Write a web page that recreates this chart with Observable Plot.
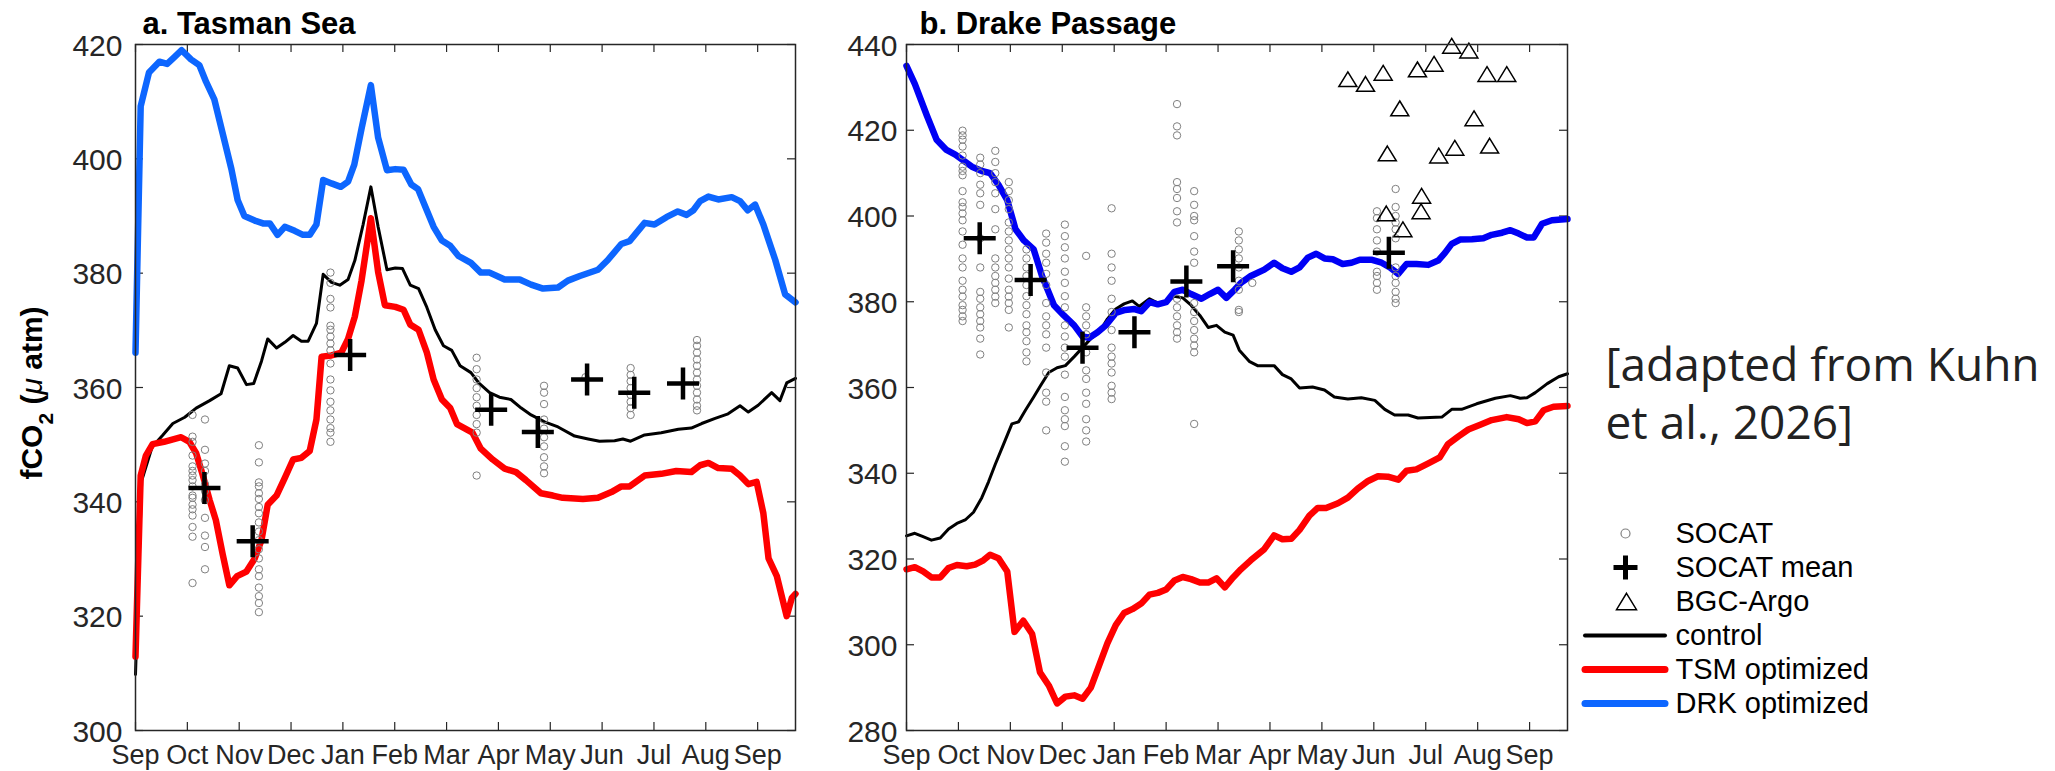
<!DOCTYPE html>
<html><head><meta charset="utf-8">
<script src="https://cdn.jsdelivr.net/npm/d3@7"></script>
<script src="https://cdn.jsdelivr.net/npm/@observablehq/plot@0.6"></script>
<style>
body{margin:0;background:#fff;}
#fig{position:relative;width:2055px;height:771px;overflow:hidden;background:#fff;}
.pane{position:absolute;top:0;}
#ylab{position:absolute;left:31.6px;top:393px;transform:translate(-50%,-50%) rotate(-90deg);font:bold 30px "Liberation Sans",Arial,sans-serif;line-height:1;white-space:nowrap;color:#000;}
#ylab .sub{font-size:0.7em;position:relative;top:11px;}
#ylab .mu{font-weight:normal;font-style:italic;}
</style></head><body>
<div id="fig">
  <div id="pa" class="pane" style="left:0px"></div>
  <div id="pb" class="pane" style="left:820px"></div>
  <div id="lg" class="pane" style="left:1560px"></div>
  <div id="ylab">fCO<span class="sub">2</span> (<span class="mu">μ</span> atm)</div>
</div>
<script>
// ---------- data ----------
const monthNames = ["Sep","Oct","Nov","Dec","Jan","Feb","Mar","Apr","May","Jun","Jul","Aug","Sep"];
const monthTicks = [0,1,2,3,4,5,6,7,8,9,10,11,12];
const tasmanYTicks = [300,320,340,360,380,400,420];
const drakeYTicks = [280,300,320,340,360,380,400,420,440];
const panelTitles = ["a. Tasman Sea", "b. Drake Passage"];

// x = months since 1 Sep, y = fCO2 (µatm)
const tasmanDRK = [[0,366.1],[0.1,409.2],[0.26,415.1],[0.46,417.0],[0.61,416.6],[0.75,417.8],[0.89,419.0],[1.07,417.4],[1.23,416.4],[1.36,413.5],[1.52,410.4],[1.68,404.5],[1.85,398.2],[1.97,392.8],[2.10,390.0],[2.30,389.2],[2.46,388.7],[2.59,388.7],[2.74,386.7],[2.88,388.1],[3.07,387.4],[3.23,386.7],[3.36,386.7],[3.49,388.5],[3.62,396.3],[3.78,395.7],[3.96,395.1],[4.10,396.0],[4.22,399.0],[4.36,405.3],[4.54,412.9],[4.68,403.7],[4.85,398.0],[5.01,398.2],[5.17,398.1],[5.32,395.5],[5.45,394.7],[5.59,391.6],[5.75,388.1],[5.91,385.7],[6.07,384.8],[6.23,383.0],[6.47,381.8],[6.66,380.1],[6.83,380.1],[7.12,378.9],[7.41,378.9],[7.63,378.0],[7.86,377.3],[8.15,377.5],[8.34,378.7],[8.57,379.5],[8.92,380.6],[9.11,382.3],[9.37,385.1],[9.53,385.6],[9.82,388.8],[10.01,388.5],[10.24,389.8],[10.46,390.8],[10.63,390.2],[10.76,391.0],[10.89,392.6],[11.05,393.4],[11.24,392.9],[11.50,393.3],[11.66,392.6],[11.81,391.0],[11.95,392.0],[12.11,388.5],[12.34,382.3],[12.53,376.3],[12.73,374.9]];

const tasmanControl = [[0,309.8],[0.12,343.7],[0.32,349.6],[0.52,351.6],[0.72,353.7],[0.95,354.8],[1.17,356.4],[1.43,357.7],[1.65,358.9],[1.81,363.8],[1.97,363.4],[2.14,360.5],[2.28,360.7],[2.43,364.6],[2.55,368.5],[2.72,366.9],[2.88,367.9],[3.04,369.1],[3.20,368.1],[3.33,368.1],[3.49,371.2],[3.62,379.8],[3.78,378.4],[3.94,377.9],[4.10,378.9],[4.23,382.2],[4.39,388.5],[4.54,395.1],[4.68,388.1],[4.85,380.6],[5.01,380.9],[5.15,380.8],[5.30,377.9],[5.46,377.3],[5.62,374.0],[5.78,370.1],[5.94,367.3],[6.10,366.5],[6.26,363.8],[6.47,362.6],[6.63,360.7],[6.83,359.1],[7.02,358.3],[7.24,357.9],[7.44,356.4],[7.63,355.2],[7.89,354.0],[8.15,353.1],[8.47,351.5],[8.73,351.0],[8.95,350.6],[9.24,350.7],[9.40,351.0],[9.55,350.6],[9.82,351.7],[10.14,352.1],[10.47,352.7],[10.72,352.9],[10.92,353.7],[11.18,354.6],[11.43,355.4],[11.66,356.8],[11.82,355.7],[12.01,356.9],[12.27,359.1],[12.43,357.7],[12.56,360.8],[12.73,361.6]];

const tasmanTSM = [[0,312.9],[0.1,344.6],[0.2,348.1],[0.33,350.1],[0.55,350.5],[0.88,351.3],[1.04,350.5],[1.17,348.5],[1.30,344.6],[1.43,340.3],[1.55,336.8],[1.68,330.9],[1.81,325.4],[1.96,327.0],[2.14,327.8],[2.30,330.1],[2.43,333.3],[2.55,339.5],[2.72,341.1],[2.88,344.2],[3.04,347.4],[3.20,347.7],[3.36,348.9],[3.49,354.4],[3.59,365.4],[3.78,365.6],[3.97,366.1],[4.10,368.5],[4.23,372.4],[4.36,378.7],[4.54,389.6],[4.68,380.2],[4.81,374.4],[5.01,374.1],[5.17,373.6],[5.30,371.0],[5.46,370.1],[5.62,366.1],[5.75,361.4],[5.91,357.9],[6.07,356.4],[6.20,353.6],[6.50,352.1],[6.66,349.3],[6.89,347.4],[7.12,345.8],[7.34,345.2],[7.53,343.8],[7.82,341.5],[8.05,341.1],[8.24,340.7],[8.63,340.5],[8.92,340.7],[9.18,341.7],[9.37,342.7],[9.53,342.7],[9.82,344.6],[10.14,344.9],[10.43,345.4],[10.72,345.2],[10.89,346.4],[11.05,346.8],[11.24,345.9],[11.50,345.8],[11.66,344.6],[11.82,343.1],[11.98,343.5],[12.11,338.0],[12.21,330.1],[12.37,327.0],[12.56,320.0],[12.66,323.2],[12.73,323.9]];

const tasmanMeans = [[1.33,342.4],[2.26,333.1],[4.14,365.7],[6.86,356.1],[7.76,352.2],[8.71,361.4],[9.62,359.1],[10.56,360.7]];

const tasmanSocat = [
  [1.10,[355.2,351.4,350.5,348.1,346.2,345.4,344.6,343.8,342.7,341.1,340.7,339.5,338.7,337.6,335.6,333.9,325.8]],
  [1.34,[354.4,349.1,346.7,345.4,343.1,341.9,340.3,337.2,334.1,332.1,328.2]],
  [2.38,[349.9,346.9,343.4,342.7,341.5,340.5,339.1,338.0,336.4,334.8,333.3,331.7,330.1,328.2,327.0,325.0,323.5,322.3,320.7]],
  [3.76,[380.1,378.3,375.5,374.0,370.8,370.1,368.9,367.7,366.5,364.2,361.4,359.5,357.5,356.0,354.4,352.9,352.1,350.5]],
  [6.58,[365.2,363.2,361.4,359.9,358.3,356.8,355.2,353.6,352.1,344.6]],
  [7.88,[360.3,359.1,357.1,354.4,352.8,351.3,349.7,347.8,346.2,345.0]],
  [8.68,[361.8]],
  [9.55,[363.4,362.2,361.1,359.9,358.7,357.5,356.4,355.2]],
  [10.83,[368.3,367.3,366.1,364.9,363.8,362.6,361.4,360.3,359.1,357.9,356.8,356.0]]
];

const drakeDRK = [[0,435.0],[0.16,430.8],[0.39,423.5],[0.58,417.8],[0.77,415.4],[0.94,414.3],[1.10,412.9],[1.26,411.5],[1.45,410.5],[1.61,410.0],[1.77,407.3],[1.94,403.7],[2.10,396.9],[2.26,394.3],[2.45,392.2],[2.61,386.0],[2.84,379.2],[3.03,376.8],[3.23,374.5],[3.39,371.9],[3.52,371.6],[3.68,372.9],[3.84,374.5],[4.03,377.4],[4.21,378.1],[4.39,378.3],[4.52,377.8],[4.68,379.9],[4.84,379.4],[5.00,379.9],[5.16,382.3],[5.32,382.8],[5.48,381.8],[5.68,380.7],[5.84,381.8],[6.00,382.8],[6.16,380.9],[6.32,382.8],[6.44,384.4],[6.63,386.0],[6.89,387.5],[7.08,389.1],[7.24,387.8],[7.41,387.0],[7.57,388.0],[7.73,390.3],[7.89,391.2],[8.05,390.1],[8.21,389.9],[8.40,388.8],[8.57,389.1],[8.73,389.8],[8.95,389.8],[9.15,389.1],[9.31,388.0],[9.47,386.5],[9.63,388.8],[9.82,388.8],[10.05,388.6],[10.24,389.6],[10.37,391.4],[10.50,393.5],[10.66,394.5],[10.89,394.6],[11.11,394.8],[11.27,395.6],[11.47,396.1],[11.63,396.7],[11.79,395.9],[11.95,395.0],[12.08,395.0],[12.24,398.2],[12.43,399.0],[12.73,399.3]];

const drakeControl = [[0,325.4],[0.16,326.0],[0.32,325.2],[0.48,324.4],[0.65,324.9],[0.81,327.0],[0.97,328.3],[1.13,329.1],[1.29,330.9],[1.45,334.3],[1.58,338.0],[1.71,342.1],[1.87,346.8],[2.03,351.5],[2.16,352.0],[2.29,354.7],[2.45,357.8],[2.58,360.4],[2.74,363.5],[2.90,364.6],[3.06,365.1],[3.23,367.2],[3.39,369.3],[3.55,371.4],[3.71,372.9],[3.87,376.0],[4.03,378.3],[4.19,379.5],[4.35,380.2],[4.48,378.9],[4.68,380.7],[4.84,379.7],[5.00,380.0],[5.16,381.3],[5.32,380.9],[5.48,379.2],[5.65,376.8],[5.81,374.0],[5.97,374.5],[6.13,372.9],[6.29,372.2],[6.41,368.7],[6.60,366.1],[6.76,365.1],[7.08,365.1],[7.24,363.0],[7.41,362.0],[7.57,359.9],[7.82,360.1],[8.05,359.4],[8.24,357.8],[8.50,357.3],[8.76,357.6],[9.02,357.0],[9.21,354.9],[9.40,353.6],[9.66,353.6],[9.85,352.9],[10.31,353.1],[10.50,354.9],[10.69,354.9],[10.98,356.2],[11.34,357.5],[11.63,358.1],[11.82,357.5],[11.95,357.6],[12.11,358.8],[12.34,360.9],[12.56,362.5],[12.73,363.2]];

const drakeTSM = [[0,317.6],[0.16,318.1],[0.32,317.1],[0.48,315.7],[0.65,315.7],[0.81,317.9],[0.97,318.6],[1.16,318.3],[1.32,318.7],[1.48,319.7],[1.61,321.0],[1.77,320.2],[1.94,317.1],[2.08,303.0],[2.25,305.6],[2.42,302.5],[2.57,293.6],[2.74,290.5],[2.90,286.3],[3.06,287.9],[3.23,288.2],[3.39,287.4],[3.55,290.0],[3.71,295.2],[3.87,300.4],[4.03,304.6],[4.19,307.4],[4.35,308.3],[4.52,309.6],[4.68,311.7],[4.84,312.1],[5.00,312.9],[5.16,315.0],[5.32,315.8],[5.48,315.3],[5.65,314.5],[5.81,314.5],[5.97,315.5],[6.13,313.4],[6.29,315.7],[6.44,317.6],[6.63,319.7],[6.89,322.3],[7.08,325.5],[7.24,324.6],[7.41,324.7],[7.57,326.8],[7.76,330.1],[7.92,331.9],[8.08,331.9],[8.31,333.0],[8.50,334.3],[8.69,336.4],[8.89,338.2],[9.08,339.3],[9.27,339.2],[9.47,338.5],[9.63,340.6],[9.82,340.9],[10.05,342.3],[10.27,343.7],[10.43,346.8],[10.63,348.6],[10.82,350.2],[11.05,351.3],[11.27,352.4],[11.56,353.1],[11.79,352.6],[11.95,351.7],[12.11,352.1],[12.27,354.7],[12.46,355.5],[12.73,355.7]];

const drakeMeans = [[1.41,394.8],[2.39,385.1],[3.39,369.3],[4.39,372.9],[5.39,384.7],[6.29,388.3],[9.29,391.4]];

const drakeArgo = [[8.50,431.9],[8.84,430.8],[9.18,433.4],[9.50,425.1],[9.26,414.6],[9.24,400.6],[9.56,396.9],[9.84,434.2],[10.16,435.5],[9.92,404.7],[9.91,401.1],[10.25,414.1],[10.56,415.9],[10.50,439.7],[10.83,438.6],[10.93,422.8],[11.18,433.1],[11.56,433.1],[11.23,416.4]];

const drakeSocat = [
  [1.08,[419.9,418.8,417.8,416.2,414.1,411.5,410.5,409.5,405.8,403.2,402.1,400.6,399.0,396.4,393.3,390.1,388.0,384.9,382.8,381.2,379.2,378.1,376.6,375.5]],
  [1.42,[413.6,412.0,410.0,407.3,405.3,402.6,394.8,388.0,382.3,380.7,378.7,377.1,375.5,374.0,371.4,367.7]],
  [1.71,[415.2,412.6,410.0,407.9,405.3,401.6,396.9,390.1,388.0,386.0,384.4,382.8,381.2,379.7]],
  [1.97,[407.9,405.8,403.7,401.6,398.5,396.4,394.3,392.2,390.1,388.0,385.4,382.8,381.2,379.7,378.1,374.0]],
  [2.31,[392.2,390.1,388.0,386.0,383.9,381.3,379.2,377.1,374.5,372.9,370.8,368.2,366.1]],
  [2.69,[395.9,393.8,391.2,389.1,386.5,383.9,379.7,376.6,374.5,372.4,369.3,363.5,358.8,356.7,350.0]],
  [3.05,[398.0,395.3,392.7,390.1,387.0,384.4,381.3,378.7,374.5,371.9,369.3,367.2,363.0,357.8,354.7,352.6,351.0,346.3,342.7]],
  [3.46,[390.7,378.7,376.6,374.5,372.4,368.2,364.0,362.0,358.8,356.2,352.6,350.0,347.4]],
  [3.95,[401.8,391.2,388.0,384.9,380.7,377.6,373.4,369.3,367.2,365.6,363.5,360.4,358.8,357.3]],
  [5.21,[426.1,420.9,418.8,407.9,406.3,404.2,401.1,398.5,380.7,378.7,376.6,374.5,372.9,371.4]],
  [5.54,[405.8,402.6,400.0,399.0,395.3,391.7,389.1,379.7,377.6,375.5,373.4,371.4,369.8,368.2,351.5]],
  [6.40,[396.4,394.3,392.2,390.1,388.0,384.9,382.8,378.1,377.6]],
  [6.66,[384.4]],
  [9.06,[401.1,399.5,396.9,394.3,391.7,387.0,386.0,384.4,382.8]],
  [9.42,[406.3,402.1,400.0,398.5,396.9,394.8,388.0,386.0,384.4,382.3,380.7,379.7]]
];

const legendLabels = ["SOCAT","SOCAT mean","BGC-Argo","control","TSM optimized","DRK optimized"];
const annotationText = "[adapted from Kuhn\net al., 2026]";

// ---------- styling ----------
const AX = "#262626";
const BLUE_A = "#0d66ff";
const BLUE_B = "#0000f5";
const RED = "#ff0000";
const GRAY = "#808080";
const FONT = "Liberation Sans, Arial, Helvetica, sans-serif";
const X_DOMAIN = [0, 12.73];

const plusSymbol = {draw(ctx, size) {const r = Math.sqrt(size / Math.PI); ctx.moveTo(-r, 0); ctx.lineTo(r, 0); ctx.moveTo(0, -r); ctx.lineTo(0, r);}};
const triSymbol = {draw(ctx, size) {const r = Math.sqrt(size / Math.PI), h = r * 0.82; ctx.moveTo(0, -h); ctx.lineTo(r, h); ctx.lineTo(-r, h); ctx.closePath();}};

const flatten = (cols) => cols.flatMap(([m, vals]) => vals.map((v) => [m, v]));

function panel(cfg) {
  const H = 771, mt = 44, mb = 41;
  const fw = cfg.width - cfg.ml - cfg.mr, fh = H - mt - mb;
  const X = (d) => d[0], Y = (d) => d[1];
  const marks = [
    Plot.tickX(monthTicks, {x: (d) => d, insetTop: fh - 8, stroke: AX, strokeWidth: 1.2}),
    Plot.tickX(monthTicks, {x: (d) => d, insetBottom: fh - 8, stroke: AX, strokeWidth: 1.2}),
    Plot.tickY(cfg.yTicks, {y: (d) => d, insetRight: fw - 8, stroke: AX, strokeWidth: 1.2}),
    Plot.tickY(cfg.yTicks, {y: (d) => d, insetLeft: fw - 8, stroke: AX, strokeWidth: 1.2}),
    Plot.text(monthTicks, {x: (d) => d, text: (d) => monthNames[d], frameAnchor: "bottom", dy: 14, lineAnchor: "top", fontSize: 27, fontFamily: FONT, fill: AX}),
    Plot.text(cfg.yTicks, {y: (d) => d, text: (d) => String(d), frameAnchor: "left", dx: -cfg.pad, dy: 1.5, textAnchor: "end", lineAnchor: "middle", fontSize: 30, fontFamily: FONT, fill: AX}),
    Plot.text([cfg.title], {text: (d) => d, frameAnchor: "top-left", dx: cfg.titleDx, dy: -20, textAnchor: "start", lineAnchor: "middle", fontSize: 31, fontWeight: "bold", fontFamily: FONT, fill: "#000"}),
    Plot.line(cfg.control, {x: X, y: Y, stroke: "#000", strokeWidth: 3, strokeLinejoin: "round"}),
    Plot.line(cfg.tsm, {x: X, y: Y, stroke: RED, strokeWidth: 6.5, strokeLinejoin: "round", strokeLinecap: "round"}),
    Plot.line(cfg.drk, {x: X, y: Y, stroke: cfg.blue, strokeWidth: 6.5, strokeLinejoin: "round", strokeLinecap: "round"}),
    Plot.dot(flatten(cfg.socat), {x: X, y: Y, r: 3.7, stroke: GRAY, strokeWidth: 1, fill: "none"}),
    Plot.dot(cfg.means, {x: X, y: Y, r: 16, symbol: plusSymbol, stroke: "#000", strokeWidth: 4.5, fill: "none"})
  ];
  if (cfg.argo) marks.push(Plot.dot(cfg.argo, {x: X, y: Y, r: 9, symbol: triSymbol, stroke: "#000", strokeWidth: 1.5, fill: "none"}));
  marks.push(Plot.frame({stroke: AX, strokeWidth: 1.5}));
  return Plot.plot({
    width: cfg.width, height: H,
    marginLeft: cfg.ml, marginRight: cfg.mr, marginTop: mt, marginBottom: mb,
    x: {domain: X_DOMAIN, axis: null},
    y: {domain: cfg.yDomain, axis: null},
    style: {background: "transparent", overflow: "visible", maxWidth: "none", fontFamily: FONT},
    marks
  });
}

document.getElementById("pa").append(panel({
  width: 820, ml: 135, mr: 25, pad: 13, titleDx: 7, title: panelTitles[0],
  yDomain: [300, 420], yTicks: tasmanYTicks,
  drk: tasmanDRK, control: tasmanControl, tsm: tasmanTSM, means: tasmanMeans, socat: tasmanSocat,
  blue: BLUE_A
}));

document.getElementById("pb").append(panel({
  width: 760, ml: 86, mr: 13, pad: 9, titleDx: 13, title: panelTitles[1],
  yDomain: [280, 440], yTicks: drakeYTicks,
  drk: drakeDRK, control: drakeControl, tsm: drakeTSM, means: drakeMeans, socat: drakeSocat, argo: drakeArgo,
  blue: BLUE_B
}));

// ---------- legend + annotation ----------
const LW = 495, frameW = LW - 25;
const lineRows = [
  {label: legendLabels[3], stroke: "#000", w: 4},
  {label: legendLabels[4], stroke: RED, w: 7},
  {label: legendLabels[5], stroke: BLUE_A, w: 7}
];
const legend = Plot.plot({
  width: LW, height: 771, marginLeft: 25, marginRight: 0, marginTop: 0, marginBottom: 0,
  y: {type: "point", domain: legendLabels, range: [515, 721], axis: null},
  style: {background: "transparent", overflow: "visible", maxWidth: "none", fontFamily: FONT},
  marks: [
    Plot.dot([legendLabels[0]], {y: (d) => d, frameAnchor: "left", dx: 40, r: 4.5, stroke: GRAY, strokeWidth: 1.2, fill: "none"}),
    Plot.dot([legendLabels[1]], {y: (d) => d, frameAnchor: "left", dx: 40, r: 12, symbol: plusSymbol, stroke: "#000", strokeWidth: 5, fill: "none"}),
    Plot.dot([legendLabels[2]], {y: (d) => d, frameAnchor: "left", dx: 41, r: 10, symbol: triSymbol, stroke: "#000", strokeWidth: 1.5, fill: "none"}),
    ...lineRows.map((row) => Plot.ruleY([row.label], {y: (d) => d, insetRight: frameW - 80, stroke: row.stroke, strokeWidth: row.w, strokeLinecap: "round"})),
    Plot.text(legendLabels, {y: (d) => d, text: (d) => d, frameAnchor: "left", dx: 90, textAnchor: "start", lineAnchor: "middle", fontSize: 29, fontFamily: FONT, fill: "#000"}),
    Plot.text([annotationText], {text: (d) => d, frameAnchor: "top-left", dx: 20, dy: 340, textAnchor: "start", lineAnchor: "top", lineHeight: 1.25, fontSize: 46, fontFamily: "Open Sans, DejaVu Sans, sans-serif", fill: "#222"})
  ]
});
document.getElementById("lg").append(legend);
</script>
</body></html>
